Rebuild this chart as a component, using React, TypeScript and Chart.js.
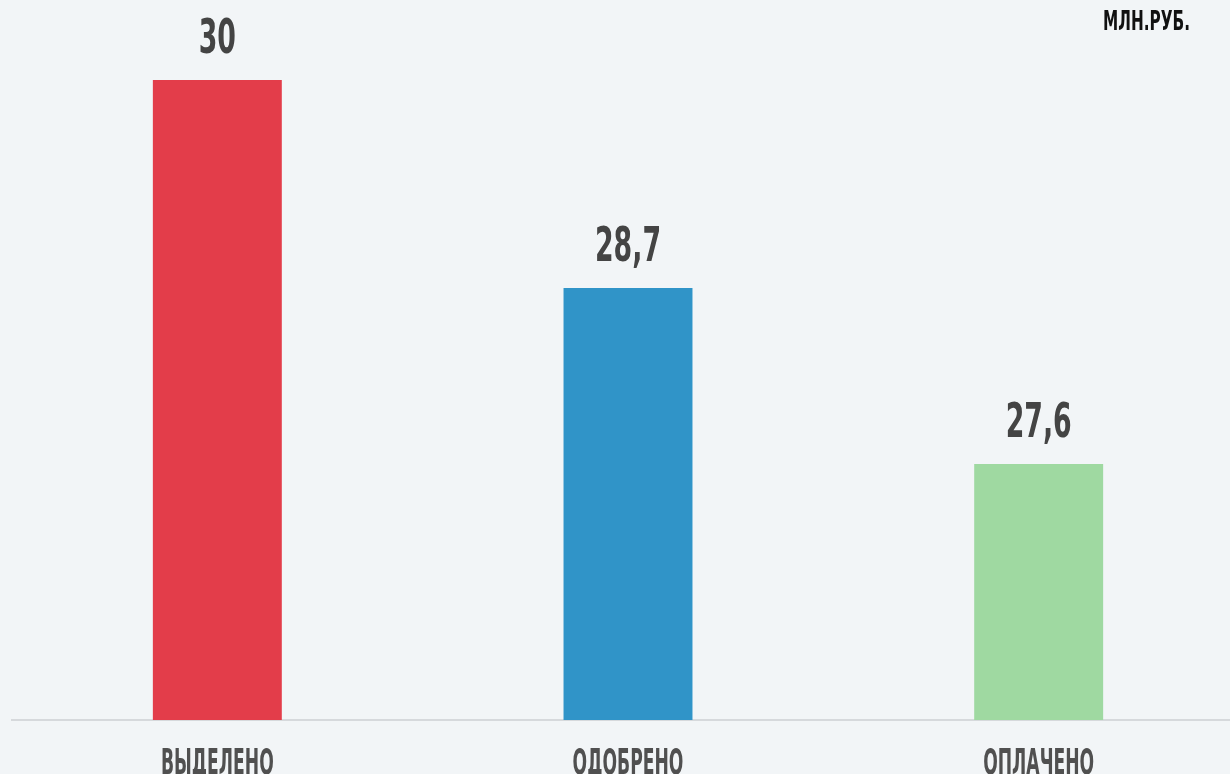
import React, { useEffect, useRef } from "react";
import { Chart, registerables } from "chart.js";

Chart.register(...registerables);

const categories = ["ВЫДЕЛЕНО", "ОДОБРЕНО", "ОПЛАЧЕНО"];
const values = [30, 28.7, 27.6];
const valueLabels = ["30", "28,7", "27,6"];
const barColors = ["#e33d4a", "#3094c8", "#9fd9a1"];
const unitLabel = "МЛН.РУБ.";
const yMin = 26;
const yMax = 30.4;

const FONT = "'DejaVu Sans Condensed', 'DejaVu Sans', sans-serif";

const labelPlugin = {
  id: "valueLabels",
  afterDatasetsDraw(chart: any) {
    const ctx = chart.ctx;
    const meta = chart.getDatasetMeta(0);
    ctx.save();
    // value labels above bars
    ctx.fillStyle = "#444444";
    ctx.textAlign = "center";
    ctx.textBaseline = "middle";
    ctx.font = `bold 48px ${FONT}`;
    meta.data.forEach((bar: any, i: number) => {
      ctx.save();
      ctx.translate(bar.x, bar.y - 39);
      ctx.scale(0.62, 1);
      ctx.fillText(valueLabels[i], 0, 0);
      ctx.restore();
    });
    // category labels under the axis
    const xs = chart.scales.x;
    ctx.fillStyle = "#505050";
    ctx.textBaseline = "alphabetic";
    ctx.font = `bold 36px ${FONT}`;
    categories.forEach((c, i) => {
      ctx.save();
      ctx.translate(xs.getPixelForTick(i), xs.top + 54);
      ctx.scale(0.53, 1);
      ctx.fillText(c, 0, 0);
      ctx.restore();
    });
    // unit label
    ctx.fillStyle = "#111111";
    ctx.font = `bold 27px ${FONT}`;
    ctx.textAlign = "right";
    ctx.textBaseline = "middle";
    ctx.save();
    ctx.translate(1190, 23);
    ctx.scale(0.63, 1);
    ctx.fillText(unitLabel, 0, 0);
    ctx.restore();
    ctx.restore();
  },
};

export default function App() {
  const ref = useRef<HTMLCanvasElement>(null);
  useEffect(() => {
    if (!ref.current) return;
    const chart = new Chart(ref.current, {
      type: "bar",
      data: {
        labels: categories,
        datasets: [
          {
            data: values,
            backgroundColor: barColors,
            categoryPercentage: 1,
            barPercentage: 0.314,
          },
        ],
      },
      options: {
        responsive: false,
        animation: false,
        layout: { padding: { left: 12, right: 0, top: 16, bottom: 0 } },
        plugins: { legend: { display: false }, tooltip: { enabled: false } },
        scales: {
          x: {
            grid: { display: false, drawTicks: false },
            border: { display: true, color: "#d6d9dc", width: 2 },
            ticks: { display: false },
            afterFit: (scale: any) => {
              scale.height = 54;
            },
          },
          y: {
            display: false,
            min: yMin,
            max: yMax,
          },
        },
      },
      plugins: [labelPlugin],
    });
    return () => chart.destroy();
  }, []);
  return (
    <div
      style={{
        position: "fixed",
        left: 0,
        top: 0,
        width: 1230,
        height: 774,
        overflow: "hidden",
        background: "#f2f5f7",
      }}
    >
      <canvas ref={ref} width={1244} height={774} style={{ display: "block" }} />
    </div>
  );
}
